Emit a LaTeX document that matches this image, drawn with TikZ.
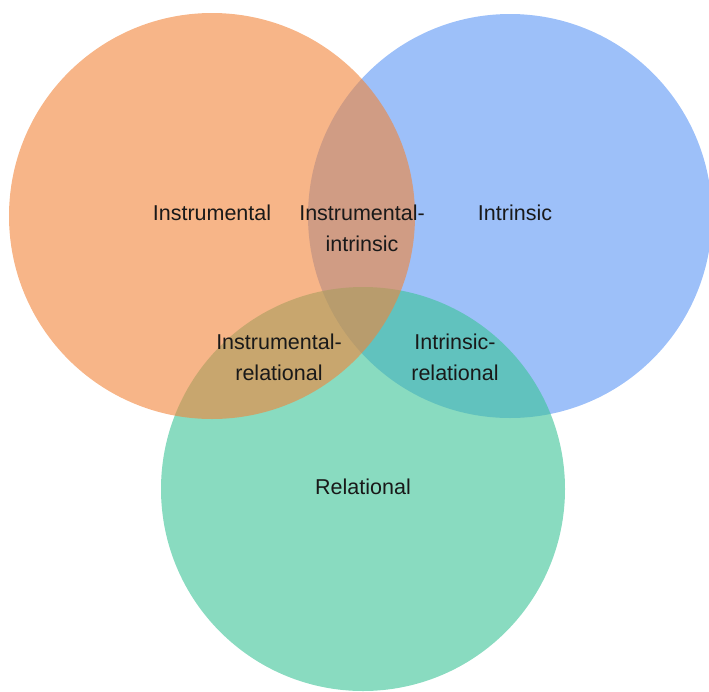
\documentclass[tikz,border=0pt]{standalone}
\usepackage{fontspec}
\setmainfont{Liberation Sans}
\usetikzlibrary{positioning}

\definecolor{instrcol}{RGB}{242,132,56}
\definecolor{intrcol}{RGB}{92,150,245}
\definecolor{relcol}{RGB}{58,195,150}

\begin{document}
\begin{tikzpicture}[
        x=1pt, y=-1pt,
        set/.style={circle, draw=none, fill opacity=0.6, inner sep=0pt},
        label/.style={align=center, font=\fontsize{21.5}{31}\selectfont, text=black!90}
    ]
        \useasboundingbox (0,0) rectangle (709,691);

        % Sets (blue first, orange on top)
        \node[set, fill=intrcol, minimum size=404pt] (intr) at (510,216) {};
        \node[set, fill=relcol, minimum size=404pt] (rel) at (363,489) {};
        \node[set, fill=instrcol, minimum size=406pt] (instr) at (212,216) {};

        % Single sets
        \node[label] (linstr) at (212,213) {Instrumental};
        \node[label] (lintr) at (515,213) {Intrinsic};
        \node[label] (lrel) at (363,487) {Relational};

        % Pairs
        \node[label] (linstrintr) at (362,228) {Instrumental-\\intrinsic};
        \node[label] (linstrrel) at (279,357) {Instrumental-\\relational};
        \node[label] (lintrrel) at (455,357) {Intrinsic-\\relational};

    \end{tikzpicture}
\end{document}
